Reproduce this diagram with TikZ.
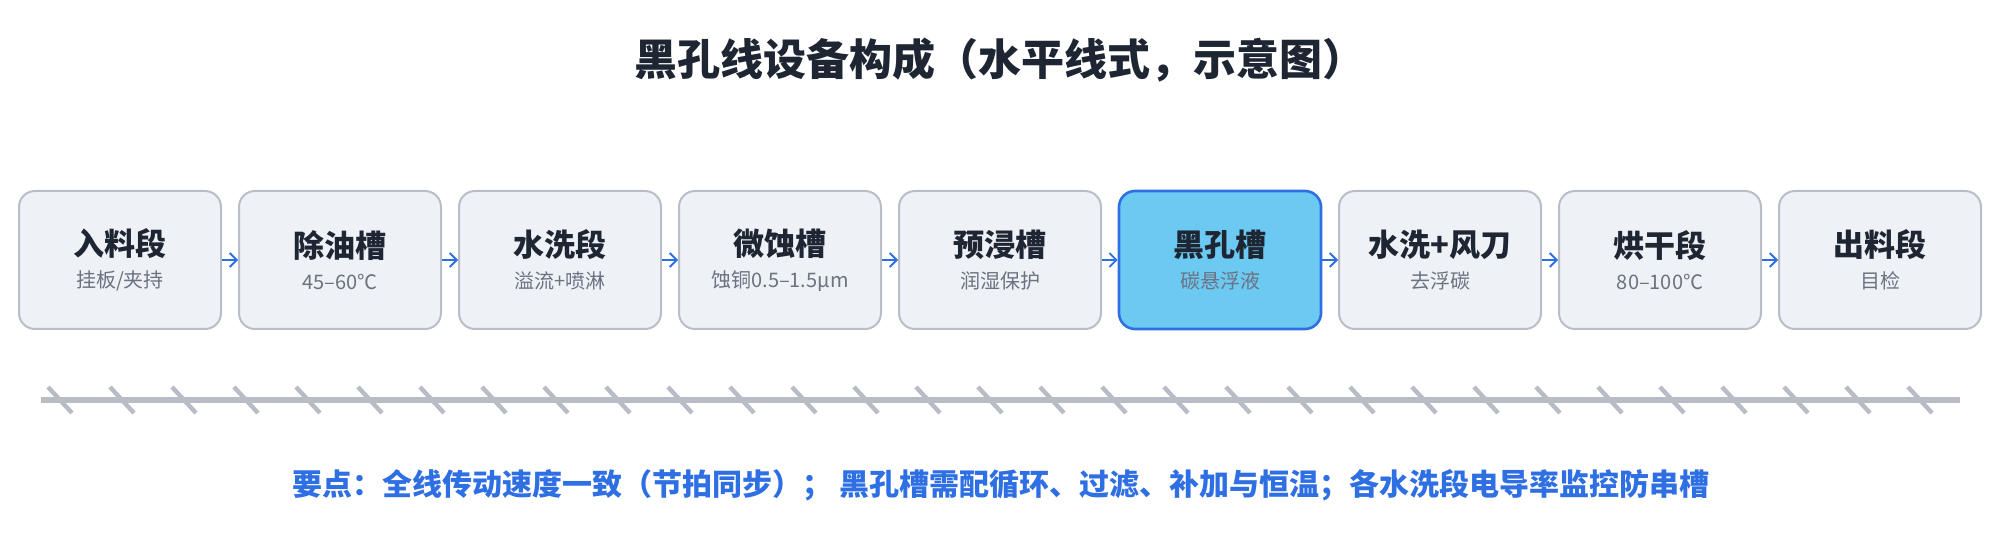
\documentclass[tikz,border=0pt]{standalone}
\usepackage{fontspec}
\setmainfont{Noto Sans CJK SC}
\usetikzlibrary{arrows.meta}
\definecolor{boxfill}{HTML}{EEF1F6}
\definecolor{boxline}{HTML}{B8BDC8}
\definecolor{hotfill}{HTML}{6CC9F2}
\definecolor{accent}{HTML}{2F6FE4}
\definecolor{ink}{HTML}{1F2633}
\definecolor{sub}{HTML}{6B7280}
\definecolor{belt}{HTML}{B8BCC5}
\tikzset{
  stage/.style={draw=boxline, line width=1pt, fill=boxfill, rounded corners=8pt,
    minimum width=101pt, minimum height=69pt, align=center, text=ink},
  hot/.style={stage, draw=accent, fill=hotfill, line width=1.3pt},
  flow/.style={-{Straight Barb[length=3.5pt,width=7pt]}, draw=accent, line width=0.9pt},
}
\newcommand{\stagetext}[2]{{\fontsize{15.5pt}{18pt}\bfseries #1}\\[4pt]{\fontsize{12pt}{14pt}\color{sub}#2}}
\begin{document}
\begin{tikzpicture}[x=0.5pt, y=-0.5pt]
        \useasboundingbox (0,0) rectangle (2000,560);
        % title
        \node[text=ink, font=\fontsize{21.5pt}{25pt}\bfseries] (title) at (1000,60) {黑孔线设备构成（水平线式，示意图）};

        % stages
        \node[stage] (s1) at (120,260) {\stagetext{入料段}{挂板/夹持}};
        \node[stage] (s2) at (340,260) {\stagetext{除油槽}{45–60℃}};
        \node[stage] (s3) at (560,260) {\stagetext{水洗段}{溢流+喷淋}};
        \node[stage] (s4) at (780,260) {\stagetext{微蚀槽}{蚀铜0.5–1.5μm}};
        \node[stage] (s5) at (1000,260) {\stagetext{预浸槽}{润湿保护}};
        \node[hot]   (s6) at (1220,260) {\stagetext{黑孔槽}{碳悬浮液}};
        \node[stage] (s7) at (1440,260) {\stagetext{水洗+风刀}{去浮碳}};
        \node[stage] (s8) at (1660,260) {\stagetext{烘干段}{80–100℃}};
        \node[stage] (s9) at (1880,260) {\stagetext{出料段}{目检}};
        \draw[flow] (s1) -- (s2);
        \draw[flow] (s2) -- (s3);
        \draw[flow] (s3) -- (s4);
        \draw[flow] (s4) -- (s5);
        \draw[flow] (s5) -- (s6);
        \draw[flow] (s6) -- (s7);
        \draw[flow] (s7) -- (s8);
        \draw[flow] (s8) -- (s9);

        % conveyor
        \draw[belt, line width=3pt] (41,400) -- (1960,400);
        \foreach \x in {0,...,30}
          \draw[belt, line width=2.2pt] (48+62*\x,387) -- (72+62*\x,413);

        % note
        \node[text=accent, font=\fontsize{15pt}{18pt}\bfseries] (note) at (1001,485) {要点：全线传动速度一致（节拍同步）； 黑孔槽需配循环、过滤、补加与恒温；各水洗段电导率监控防串槽};
\end{tikzpicture}
\end{document}
